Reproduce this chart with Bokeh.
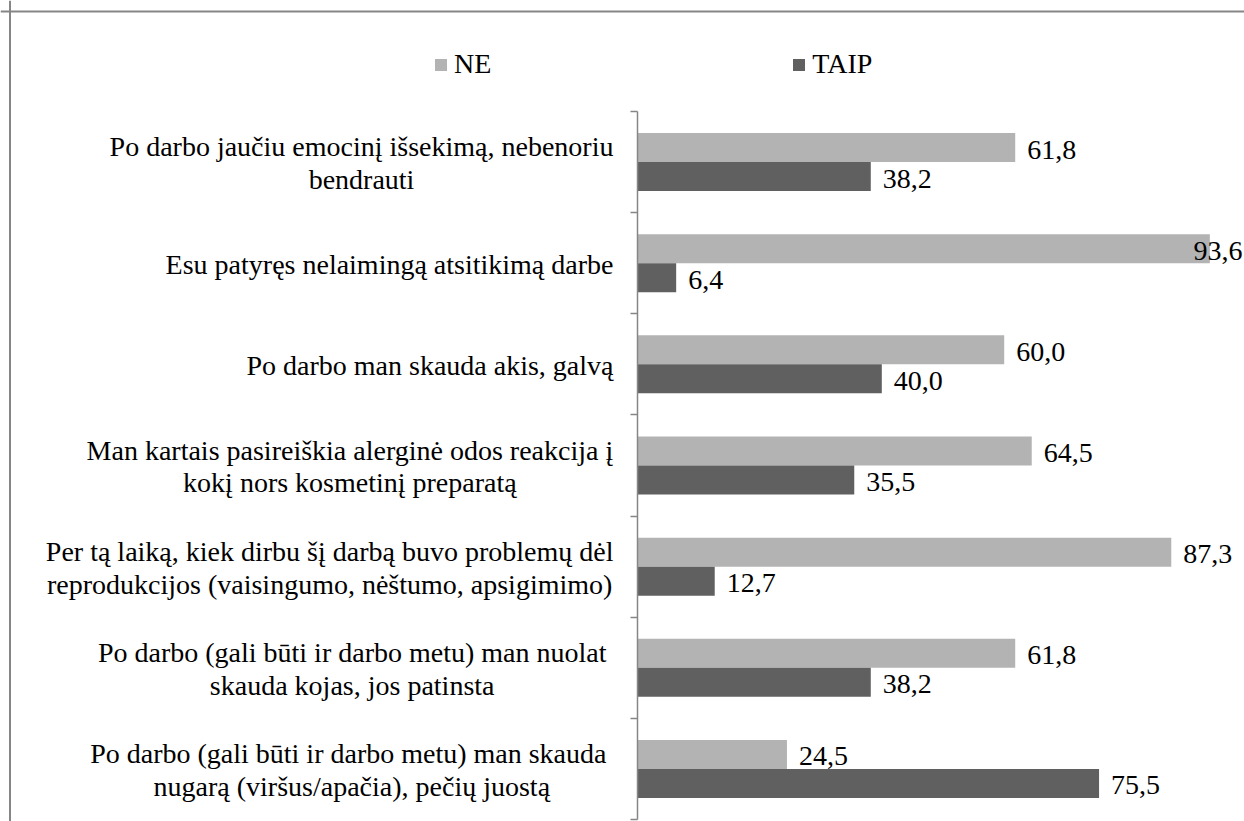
from bokeh.plotting import figure
from bokeh.models import ColumnDataSource, Range1d, FixedTicker, Legend, LegendItem, Span
from bokeh.core.properties import value
from bokeh.embed import file_html
from bokeh.resources import INLINE

# ---------------- data ----------------
categories = [
    "Po darbo jaučiu emocinį išsekimą, nebenoriu\nbendrauti",
    "Esu patyręs nelaimingą atsitikimą darbe",
    "Po darbo man skauda akis, galvą",
    "Man kartais pasireiškia alerginė odos reakcija į\nkokį nors kosmetinį preparatą",
    "Per tą laiką, kiek dirbu šį darbą buvo problemų dėl\nreprodukcijos (vaisingumo, nėštumo, apsigimimo)",
    "Po darbo (gali būti  ir darbo metu) man nuolat\nskauda  kojas, jos patinsta",
    "Po darbo (gali būti  ir darbo metu) man skauda\nnugarą (viršus/apačia), pečių juostą",
]
ne_values = [61.8, 93.6, 60.0, 64.5, 87.3, 61.8, 24.5]
taip_values = [38.2, 6.4, 40.0, 35.5, 12.7, 38.2, 75.5]
series_names = ["NE", "TAIP"]
series_colors = ["#b3b3b3", "#606060"]

# ---------------- layout constants ----------------
W, H = 1244, 821
AXIS_PX = 636.5          # canvas x of value 0
PPU = 6.12               # pixels per percent
TOP_PX = 111.0           # canvas y of top category boundary
CAT_PX = 101.14          # category band height in px
FONT = "Liberation Serif"
FS = 28
n = len(categories)

x_start = -AXIS_PX / PPU
x_end = (W - AXIS_PX) / PPU
y_end = n + TOP_PX / CAT_PX
y_start = (TOP_PX + n * CAT_PX - H) / CAT_PX

# Times / Liberation Serif advance widths (per 1000 em) for centring multi-line labels
_w = {' ': 250, '(': 333, ')': 333, ',': 250, '/': 278, '.': 250,
      'E': 611, 'M': 889, 'P': 556, 'N': 722, 'T': 611, 'A': 722, 'I': 333,
      'a': 444, 'b': 500, 'c': 444, 'd': 500, 'e': 444, 'f': 333, 'g': 500, 'h': 500,
      'i': 278, 'j': 278, 'k': 500, 'l': 278, 'm': 778, 'n': 500, 'o': 500, 'p': 500,
      'q': 500, 'r': 333, 's': 389, 't': 278, 'u': 500, 'v': 500, 'w': 722, 'x': 500,
      'y': 500, 'z': 444}
_acc = str.maketrans("ąčęėįšųūž", "aceeisuuz")


def text_width(s):
    s = s.translate(_acc)
    return sum(_w.get(ch, 500) for ch in s) * FS / 1000.0


centers = [n - i - 0.5 for i in range(n)]
bar_h = 29.0 / CAT_PX

label_offsets = []
for c in categories:
    maxw = max(text_width(line) for line in c.split("\n"))
    label_offsets.append(-(23.5 + maxw / 2.0))

p = figure(width=W, height=H, output_backend="svg", toolbar_location=None,
           x_range=Range1d(x_start, x_end), y_range=Range1d(y_start, y_end),
           x_axis_location=None, min_border=0, background_fill_color="white",
           border_fill_color="white")
p.outline_line_color = None
p.grid.visible = False

# bars
src_ne = ColumnDataSource(dict(y=[c + bar_h / 2 for c in centers], v=ne_values))
src_taip = ColumnDataSource(dict(y=[c - bar_h / 2 for c in centers], v=taip_values))
r_ne = p.hbar(y="y", left=0, right="v", height=bar_h, source=src_ne,
              fill_color=series_colors[0], line_color=None)
r_taip = p.hbar(y="y", left=0, right="v", height=bar_h, source=src_taip,
                fill_color=series_colors[1], line_color=None)


# value labels
def label_source(vals, ys):
    txt, offs = [], []
    for v in vals:
        t = f"{v:.1f}".replace(".", ",")
        tw = text_width(t)
        end = AXIS_PX + v * PPU
        off = 12.0 if end + 12 + tw <= W - 2 else (W - 2 - tw - end)
        txt.append(t)
        offs.append(off)
    return ColumnDataSource(dict(x=vals, y=ys, text=txt, xo=offs))


for vals, ys in ((ne_values, src_ne.data["y"]), (taip_values, src_taip.data["y"])):
    p.text(x="x", y="y", text="text", x_offset="xo", y_offset=2,
           source=label_source(vals, ys),
           text_font=value(FONT), text_font_size=f"{FS}px", text_color="black",
           text_align="left", text_baseline="middle")

# category labels
cat_src = ColumnDataSource(dict(x=[0] * n, y=centers, text=categories, xo=label_offsets))
p.text(x="x", y="y", text="text", x_offset="xo", y_offset=1, source=cat_src,
       text_font=value(FONT), text_font_size=f"{FS}px", text_color="black",
       text_align="center", text_baseline="middle", text_line_height=1.06)

# category axis at x = 0
ax = p.yaxis[0]
ax.fixed_location = 0
ax.bounds = (0, n)
ax.ticker = FixedTicker(ticks=list(range(n + 1)))
ax.major_label_overrides = {k: "" for k in range(n + 1)}
ax.major_tick_out = 7
ax.major_tick_in = 0
ax.minor_tick_out = 0
ax.minor_tick_in = 0
ax.axis_line_color = "#868686"
ax.axis_line_width = 1.5
ax.major_tick_line_color = "#868686"
ax.major_tick_line_width = 1.5

# legend
legend = Legend(items=[LegendItem(label=series_names[0], renderers=[r_ne]),
                       LegendItem(label=series_names[1], renderers=[r_taip])],
                orientation="horizontal", location=(433, H - 80),
                glyph_width=15, glyph_height=15, label_standoff=6, spacing=300,
                padding=0, margin=0, border_line_color=None, background_fill_alpha=0,
                label_text_font=FONT, label_text_font_size=f"{FS}px",
                label_text_color="black")
p.add_layout(legend)

# chart border (left and top edges visible in the crop)
p.add_layout(Span(location=9.5, location_units="screen", dimension="height",
                  line_color="#868686", line_width=2))
p.add_layout(Span(location=H - 11, location_units="screen", dimension="width",
                  line_color="#868686", line_width=2))

open("out.html", "w").write(file_html(p, INLINE))
